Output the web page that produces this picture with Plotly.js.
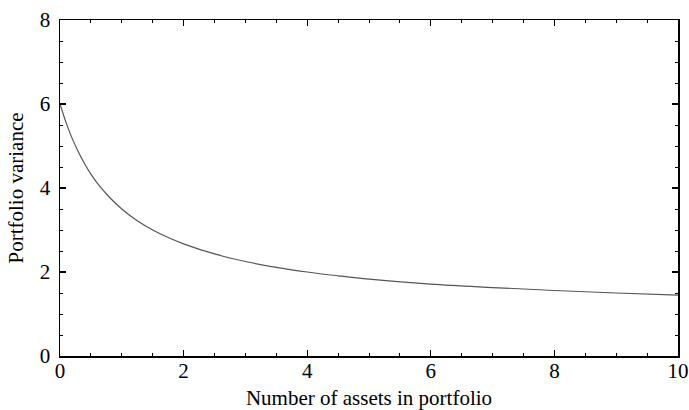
<!DOCTYPE html>
<html>
<head>
<meta charset="utf-8">
<script src="https://cdn.plot.ly/plotly-3.0.1.min.js"></script>
<style>html,body{margin:0;padding:0;background:#fff;}#chart{width:689px;height:410px;}</style>
</head>
<body>
<div id="chart"></div>
<script>
const assets = [0, 0.1, 0.2, 0.3, 0.4, 0.5, 0.6, 0.8, 1.0, 1.25, 1.5, 1.75, 2, 2.5, 3, 3.5, 4, 4.5, 5, 6, 7, 8, 9, 10];
const variance = [6.0, 5.55, 5.17, 4.85, 4.57, 4.33, 4.12, 3.78, 3.5, 3.22, 3.0, 2.82, 2.67, 2.43, 2.25, 2.11, 2.0, 1.91, 1.83, 1.71, 1.63, 1.56, 1.5, 1.45];
const xTickVals = [0, 2, 4, 6, 8, 10];
const yTickVals = [0, 2, 4, 6, 8];

const font = {family: '"Liberation Serif", "Times New Roman", serif', color: '#000'};

const trace = {
  x: assets, y: variance, type: 'scatter', mode: 'lines',
  line: {color: '#555555', width: 1.2, shape: 'spline', smoothing: 1},
  hoverinfo: 'none'
};

const axisCommon = {
  showgrid: false, zeroline: false, showline: true, linecolor: '#000', linewidth: 1.5,
  mirror: 'allticks', ticks: 'inside', ticklen: 6, tickwidth: 1.2, tickcolor: '#000',
  tickfont: Object.assign({size: 21}, font),
  minor: {dtick: 0.5, ticks: 'inside', ticklen: 3, tickwidth: 1, tickcolor: '#000', showgrid: false}
};

const layout = {
  width: 689, height: 410,
  margin: {l: 60, r: 11, t: 19.5, b: 53.5},
  paper_bgcolor: '#fff', plot_bgcolor: '#fff',
  showlegend: false,
  font: font,
  xaxis: Object.assign({}, axisCommon, {
    range: [0, 10], tickvals: xTickVals, ticktext: xTickVals.map(String),
    ticklabelstandoff: -5,
    title: {text: 'Number of assets in portfolio', font: Object.assign({size: 21}, font), standoff: 10}
  }),
  yaxis: Object.assign({}, axisCommon, {
    range: [0, 8], tickvals: yTickVals, ticktext: yTickVals.map(String),
    ticklabelstandoff: 4,
    title: {text: 'Portfolio variance', font: Object.assign({size: 21}, font), standoff: 10}
  })
};

Plotly.newPlot('chart', [trace], layout, {staticPlot: true, displayModeBar: false});
</script>
</body>
</html>
